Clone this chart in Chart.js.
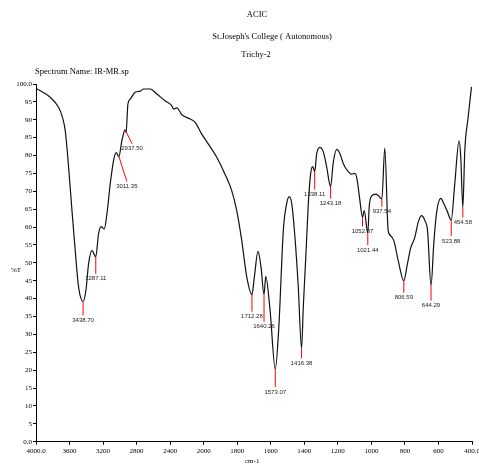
<!DOCTYPE html>
<html>
<head>
<meta charset="utf-8">
<script src="https://cdn.jsdelivr.net/npm/chart.js@4.4.1/dist/chart.umd.min.js"></script>
<style>
    html, body { margin: 0; padding: 0; background: #fff; }
    canvas { display: block; }
</style>
</head>
<body>
<canvas id="ir" width="479" height="465"></canvas>
<script>
// spectrum trace, wavenumber (cm-1) vs %T
const wavenumbers = [
    4000, 3830, 3731, 3690, 3651, 3611, 3571, 3532, 3492, 3438.7, 3405, 3373, 3333, 3287.1,
    3254, 3222, 3186, 3154, 3115, 3075, 3043, 3011.4, 2976, 2937.5, 2925, 2904, 2876, 2817,
    2757, 2718, 2638, 2559, 2460, 2380, 2361, 2320, 2261, 2162, 2102, 2023, 1972, 1922,
    1873, 1833, 1803, 1773, 1743, 1712.3, 1698, 1676, 1658, 1640.3, 1630, 1604, 1573.1, 1552,
    1525, 1505, 1490, 1475, 1456, 1436, 1416.4, 1406, 1390, 1376, 1362, 1350, 1338.1, 1326,
    1307, 1287, 1267, 1243.2, 1228, 1207, 1188, 1168, 1138, 1118, 1098, 1085, 1069, 1052.9,
    1043, 1021.4, 1013, 999, 973, 959, 937.5, 920, 900, 885, 866, 840, 806.6, 787,
    767, 741, 721, 701, 681, 665, 644.3, 628, 612, 586, 568, 549, 523.9, 503,
    477, 467, 454.6, 443, 423, 403
];
const transmittance = [
    98.8, 96.3, 93.5, 91.1, 86.9, 76.7, 64.6, 53.4, 43.2, 39.2, 42.2, 49.7, 53.4, 51.7,
    58.1, 60.1, 59.5, 63.7, 72.0, 78.6, 80.8, 79.7, 84.1, 87.2, 86.5, 94.4, 95.8, 97.7,
    98.0, 98.6, 98.6, 97.2, 95.3, 93.9, 93.0, 93.3, 91.4, 90.2, 89.3, 86.0, 83.2, 79.5,
    74.8, 70.2, 64.6, 56.2, 46.0, 41.1, 46.0, 53.2, 48.8, 41.1, 46.2, 36.6, 20.3, 32.0,
    59.2, 66.6, 68.5, 66.6, 57.3, 43.3, 26.1, 37.7, 52.7, 66.6, 75.0, 76.9, 75.5, 80.6,
    82.3, 81.1, 76.9, 71.3, 77.8, 81.7, 80.6, 77.8, 75.5, 74.8, 75.0, 73.2, 67.6, 62.7,
    64.6, 58.3, 65.7, 68.7, 69.2, 68.8, 67.9, 82.1, 59.0, 57.6, 56.2, 50.6, 45.0, 49.2,
    53.9, 57.1, 61.3, 63.2, 61.8, 59.0, 43.6, 55.3, 63.7, 68.0, 66.5, 64.6, 62.0, 72.0,
    84.1, 79.5, 65.5, 81.4, 90.7, 99.2
];

// picked peaks
const peakLabels = ["3438.70", "3287.11", "3011.35", "2937.50", "1712.28", "1640.26", "1573.07",
    "1416.38", "1338.11", "1243.18", "1052.87", "1021.44", "937.54", "806.59", "644.29",
    "523.88", "454.58"];
const peakT = [39.2, 51.7, 79.7, 87.2, 41.1, 41.1, 20.3, 26.1, 75.5, 71.3, 62.7, 58.3, 67.9,
    45.0, 43.6, 62.0, 65.5];

const xTicks = [4000, 3600, 3200, 2800, 2400, 2000, 1800, 1600, 1400, 1200, 1000, 800, 600, 400];

// leader lines (px): [dx, dy]
const leaders = [[0, 14], [0, 17], [8, 25], [7, 14], [0, 17], [0, 27], [0, 18], [0, 10], [0, 18],
    [0, 12], [0, 9], [0, 12], [0, 8], [0, 12], [0, 15], [0, 16], [0, 10]];

// axis is expanded 2x below 2000 cm-1
const toAxis = (w) => (w > 2000 ? 1000 + w / 2 : w);
const fromAxis = (t) => (t > 2000 ? 2 * (t - 1000) : t);

const serif = "'Liberation Serif', 'Times New Roman', serif";
const narrow = "'Liberation Sans Narrow', 'Arial Narrow', 'Liberation Sans', sans-serif";

const decor = {
    id: "decor",
    afterDraw(chart) {
        const ctx = chart.ctx;
        const xs = chart.scales.x, ys = chart.scales.y;
        ctx.save();
        ctx.fillStyle = "#000";
        ctx.textBaseline = "middle";
        ctx.font = "8.5px " + serif;
        ctx.textAlign = "center";
        ctx.fillText("ACIC", 257, 15);
        ctx.fillText("St.Joseph's College ( Autonomous)", 272, 37);
        ctx.fillText("Trichy-2", 256, 55);
        ctx.textAlign = "left";
        ctx.fillText("Spectrum Name: IR-MR.sp", 35, 72);
        ctx.font = "7px " + serif;
        ctx.fillText("%T", 11, 270);
        ctx.fillText("cm-1", 245, 461);

        // peak markers
        ctx.lineWidth = 1;
        ctx.font = "6px " + narrow;
        ctx.textAlign = "center";
        peakLabels.forEach((lab, i) => {
            const px = xs.getPixelForValue(toAxis(parseFloat(lab)));
            const py = ys.getPixelForValue(peakT[i]);
            const [dx, dy] = leaders[i];
            ctx.strokeStyle = "#f00";
            ctx.beginPath();
            ctx.moveTo(px, py);
            ctx.lineTo(px + dx, py + dy);
            ctx.stroke();
            ctx.fillStyle = "#222";
            ctx.fillText(lab, px + dx, py + dy + 5);
        });
        ctx.restore();
    }
};

new Chart(document.getElementById("ir"), {
    type: "line",
    data: {
        datasets: [{
            data: wavenumbers.map((w, i) => ({ x: toAxis(w), y: transmittance[i] })),
            borderColor: "#111",
            borderWidth: 1.2,
            pointRadius: 0,
            cubicInterpolationMode: "monotone",
            fill: false,
        }],
    },
    options: {
        responsive: false,
        animation: false,
        layout: { padding: { top: 84, right: 7, left: 0, bottom: 0 } },
        plugins: { legend: { display: false }, title: { display: false }, tooltip: { enabled: false } },
        scales: {
            x: {
                type: "linear",
                reverse: true,
                min: 400,
                max: 3000,
                afterBuildTicks: (scale) => {
                    scale.ticks = xTicks.map((w) => ({ value: toAxis(w) }));
                },
                afterFit: (scale) => {
                    scale.height = 23.3;
                    scale.paddingLeft = 0;
                    scale.paddingRight = 0;
                },
                ticks: {
                    autoSkip: false,
                    maxRotation: 0,
                    padding: 2,
                    color: "#000",
                    font: { size: 7, family: serif },
                    callback: (v) => {
                        const w = Math.round(fromAxis(v));
                        return w === 4000 || w === 400 ? w.toFixed(1) : String(w);
                    },
                },
                grid: { drawOnChartArea: false, tickLength: 3, color: "#000" },
                border: { color: "#000", width: 1 },
            },
            y: {
                min: 0,
                max: 100,
                afterFit: (scale) => {
                    scale.width = 36;
                    scale.paddingTop = 0;
                    scale.paddingBottom = 0;
                },
                ticks: {
                    stepSize: 5,
                    padding: 1,
                    color: "#000",
                    font: { size: 7, family: serif },
                    callback: (v) => (v === 0 || v === 100 ? v.toFixed(1) : String(v)),
                },
                grid: { drawOnChartArea: false, tickLength: 3, color: "#000" },
                border: { color: "#000", width: 1 },
            },
        },
    },
    plugins: [decor],
});
</script>
</body>
</html>
